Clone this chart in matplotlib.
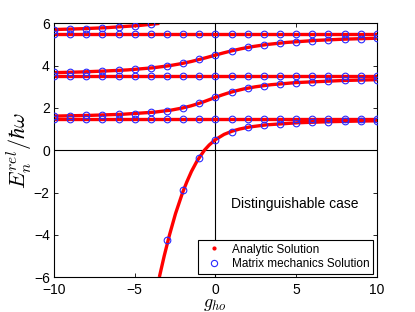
import matplotlib
matplotlib.use('Agg')
import matplotlib.pyplot as plt
from matplotlib.lines import Line2D

plt.rcParams['font.family'] = ['Liberation Sans', 'DejaVu Sans']
plt.rcParams['mathtext.fontset'] = 'cm'

# analytic solution, even branches (g_ho, E)
g_even0 = [-3.47, -3.17, -2.84, -2.47, -2.03, -1.77, -1.48, -1.13, -0.68, -0.38, 0.0,
           0.54, 1.03, 1.48, 2.12, 3.14, 5.11, 7.04, 8.94, 10.0]
E_even0 = [-6.0, -5.0, -4.0, -3.0, -2.0, -1.5, -1.0, -0.5, 0.0, 0.25, 0.5,
           0.75, 0.9, 1.0, 1.1, 1.2, 1.3, 1.35, 1.38, 1.391]

g_even1 = [-10.0, -9.63, -7.72, -5.78, -3.79, -2.72, -2.03, -1.51, -1.08, -0.70, -0.35, 0.0,
           0.36, 0.76, 1.22, 1.76, 2.47, 3.45, 4.99, 7.95, 10.0]
E_even1 = [1.616, 1.62, 1.65, 1.7, 1.8, 1.9, 2.0, 2.1, 2.2, 2.3, 2.4, 2.5,
           2.6, 2.7, 2.8, 2.9, 3.0, 3.1, 3.2, 3.3, 3.338]

g_even2 = [-10.0, -8.41, -6.9, -5.43, -3.86, -2.84, -2.09, -1.48, -0.96, -0.47, 0.0,
           0.48, 1.0, 1.58, 2.28, 3.17, 4.41, 6.34, 8.0, 10.0]
E_even2 = [3.669, 3.7, 3.745, 3.8, 3.9, 4.0, 4.1, 4.2, 4.3, 4.4, 4.5,
           4.6, 4.7, 4.8, 4.9, 5.0, 5.1, 5.2, 5.255, 5.299]

g_even3 = [-10.0, -8.2, -6.7, -4.74, -3.47]
E_even3 = [5.709, 5.75, 5.8, 5.9, 6.0]

# odd branches do not feel the interaction
g_odd = [-10, 10]
E_odd = [1.5, 3.5, 5.5]

# matrix mechanics results at integer g
g_mm = list(range(-10, 11))
mm_b0 = [-4.23, -1.9, -0.35, 0.48, 0.88, 1.08, 1.19, 1.25, 1.30, 1.325, 1.35, 1.365, 1.38, 1.39]
mm_b1 = [1.616, 1.630, 1.646, 1.669, 1.694, 1.737, 1.785, 1.874, 2.006, 2.221, 2.5,
         2.76, 2.934, 3.054, 3.136, 3.2, 3.245, 3.277, 3.301, 3.321, 3.338]
mm_b2 = [3.68, 3.695, 3.715, 3.745, 3.777, 3.827, 3.891, 3.984, 4.125, 4.30, 4.5,
         4.7, 4.86, 4.98, 5.067, 5.131, 5.185, 5.224, 5.255, 5.279, 5.299]
mm_b3 = [5.709, 5.732, 5.757, 5.79, 5.836, 5.887, 5.975]

fig = plt.figure(figsize=(4.15, 3.12), dpi=100)
ax = fig.add_axes([0.130, 0.112, 0.778, 0.813])

ax.axhline(0, color='k', lw=0.8, zorder=1)
ax.axvline(0, color='k', lw=0.8, zorder=1)

red = dict(color='red', lw=2.4, solid_capstyle='butt', zorder=2)
ax.plot(g_even0, E_even0, **red)
ax.plot(g_even1, E_even1, **red)
ax.plot(g_even2, E_even2, **red)
ax.plot(g_even3, E_even3, **red)
for e in E_odd:
    ax.plot(g_odd, [e, e], **red)

circ = dict(ls='none', marker='o', ms=4.8, mfc='none', mec='#2a2aff', mew=0.8, zorder=3)
for e in E_odd:
    ax.plot(g_mm, [e] * len(g_mm), **circ)
ax.plot(g_mm[7:], mm_b0, **circ)
ax.plot(g_mm, mm_b1, **circ)
ax.plot(g_mm, mm_b2, **circ)
ax.plot(g_mm[:7], mm_b3, **circ)

ax.set_xlim(-10, 10)
ax.set_ylim(-6, 6)
ax.set_xticks([-10, -5, 0, 5, 10])
ax.set_yticks([-6, -4, -2, 0, 2, 4, 6])
ax.tick_params(direction='in', top=True, right=True, length=3, width=0.6, labelsize=10)
ax.tick_params(axis='x', pad=4.5)
ax.tick_params(axis='y', pad=3)
for s in ax.spines.values():
    s.set_linewidth(0.8)

ax.set_xlabel(r'$g_{ho}$', fontsize=13)
ax.xaxis.set_label_coords(0.5, -0.074)
ax.set_ylabel(r'$E_n^{rel}/\hbar\omega$', fontsize=16, labelpad=0)

ax.text(4.9, -2.55, 'Distinguishable case', fontsize=10, ha='center', va='center')

handles = [Line2D([], [], ls='none', marker='.', ms=4, color='red'),
           Line2D([], [], ls='none', marker='o', ms=4.5, mfc='none', mec='#2a2aff', mew=0.8)]
leg = ax.legend(handles, ['Analytic Solution', 'Matrix mechanics Solution'],
                loc='lower right', fontsize=8.5, fancybox=False, edgecolor='k',
                framealpha=1, borderaxespad=0.3, handlelength=2.2, handletextpad=0.4,
                borderpad=0.3, labelspacing=0.2)
leg.get_frame().set_linewidth(0.8)

fig.savefig('out.png', dpi=100)
